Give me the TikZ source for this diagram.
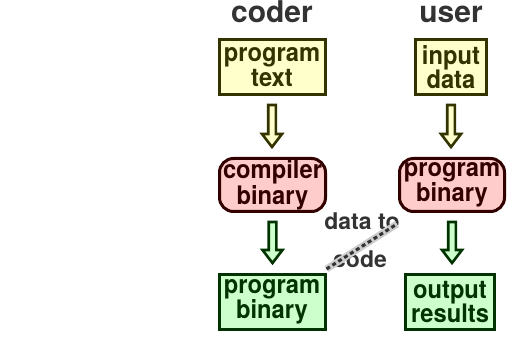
\documentclass[tikz,border=0pt]{standalone}
\usepackage{fontspec}
\setmainfont{TeX Gyre Heros}
\newfontfamily\boxfont{TeX Gyre Heros}[FakeStretch=0.93]
\usetikzlibrary{calc}
\definecolor{ydark}{HTML}{333300}
\definecolor{ylight}{HTML}{FFFFCC}
\definecolor{pdark}{HTML}{330000}
\definecolor{plight}{HTML}{FFCCCC}
\definecolor{gdark}{HTML}{003300}
\definecolor{glight}{HTML}{CCFFCC}
\definecolor{tgray}{HTML}{333333}
\definecolor{lgray}{HTML}{CCCCCC}
\begin{document}
\begin{tikzpicture}[x=1pt,y=-1pt,
  lbl/.style={font=\boxfont\bfseries\fontsize{25.5}{24.5}\selectfont, align=center, inner sep=0pt, line width=3pt},
  ybox/.style={lbl, draw=ydark, fill=ylight, text=ydark, minimum height=55},
  pbox/.style={lbl, draw=pdark, fill=plight, text=pdark, minimum height=53, rounded corners=14},
  gbox/.style={lbl, draw=gdark, fill=glight, text=gdark, minimum height=55},
  title/.style={font=\bfseries\fontsize{30}{30}\selectfont, text=tgray, inner sep=0pt, anchor=base},
  note/.style={font=\bfseries\fontsize{23}{23}\selectfont, text=tgray, inner sep=0pt, anchor=base},
  yarr/.style={draw=ydark, fill=ylight, line width=2.6pt, line join=miter},
  garr/.style={draw=gdark, fill=glight, line width=2.6pt, line join=miter},
  linkbg/.style={draw=lgray, line width=7pt},
  linkfg/.style={draw=tgray, line width=3pt, dash pattern=on 4pt off 3pt},
]
\useasboundingbox (0,0) rectangle (516,344);

\node[title] (coder) at (272,23) {coder};
\node[title] (user) at (451,23) {user};

\node[ybox, minimum width=106] (ptext) at (272,67) {program\\text};
\node[ybox, minimum width=71] (idata) at (451,67) {input\\data};

\node[pbox, minimum width=106] (comp) at (272.5,185) {compiler\\binary};
\node[pbox, minimum width=105] (prog) at (452,185) {program\\binary};

\node[gbox, minimum width=106] (pbin) at (272,302) {program\\binary};
\node[gbox, minimum width=89] (out) at (450,302) {output\\results};

% block arrows
\newcommand{\blockarr}[3]{%
  \draw[#1] let \p1=($(#2.south)+(0,9)$), \p2=($(#3.north)+(0,-10)$) in
    (\x1-3.8pt,\y1) -- (\x1+3.8pt,\y1) -- (\x1+3.8pt,\y2+13pt) -- (\x1+10pt,\y2+13pt)
    -- (\x1,\y2) -- (\x1-10pt,\y2+13pt) -- (\x1-3.8pt,\y2+13pt) -- cycle;}
\blockarr{yarr}{ptext}{comp}
\blockarr{yarr}{idata}{prog}
\blockarr{garr}{comp}{pbin}
\blockarr{garr}{prog}{out}

% data to code link
\node[note] (l1) at (362,230) {data to};
\node[note] (l2) at (360,268) {code};
\coordinate (lend) at ($(prog.south west)+(-1,11)$);
\draw[linkbg] ($(pbin.north east)+(0,-4)$) -- (lend);
\draw[linkfg] ($(pbin.north east)+(0,-4)$) -- (lend);
\end{tikzpicture}
\end{document}
